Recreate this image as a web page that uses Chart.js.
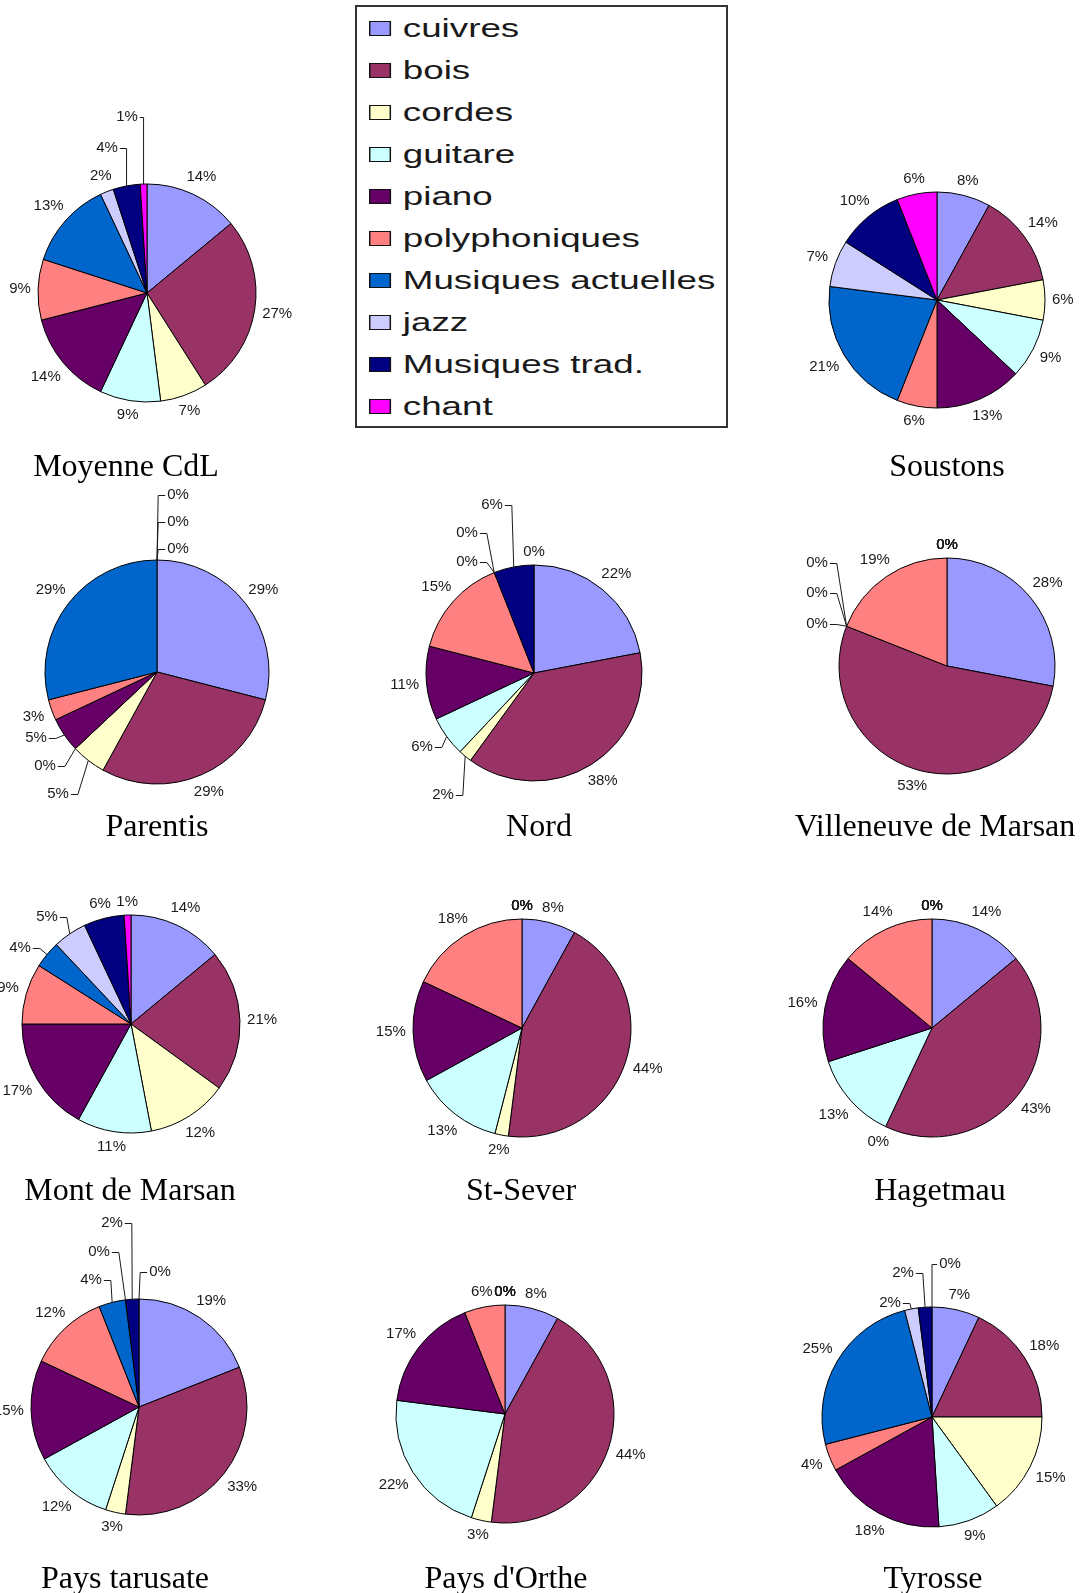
<!DOCTYPE html>
<html>
<head>
<meta charset="utf-8">
<script src="https://cdn.jsdelivr.net/npm/chart.js@4.4.1/dist/chart.umd.min.js"></script>
<style>
  body { margin: 0; background: #fff; }
  #page { position: relative; width: 1080px; height: 1593px; overflow: hidden; background: #fff; }
  #page canvas { position: absolute; }
  .site-title {
    position: absolute; width: 400px; text-align: center;
    font: 32px "Liberation Serif", "Times New Roman", serif; line-height: 36px; color: #000;
  }
  .legend-box {
    position: absolute; left: 355px; top: 5px; width: 369px; height: 419px;
    border: 2px solid #333; background: #fff;
  }
  .legend-list {
    position: absolute; left: 369px; top: 7px; transform: scaleX(1.47); transform-origin: left top;
    font: 25px "Liberation Sans", Arial, sans-serif; color: #1a1a1a; white-space: nowrap;
  }
  .legend-row { height: 42px; display: flex; align-items: center; }
  .legend-swatch { width: 13px; height: 13px; border: 1px solid #111; margin-right: 8px; }
</style>
</head>
<body>
<div id="page">
  <div class="legend-box"></div>
  <div class="legend-list" id="legend"></div>
</div>
<script>
// Répartition des élèves par famille d'instruments, par site (en %)
const CATEGORIES = ['cuivres', 'bois', 'cordes', 'guitare', 'piano', 'polyphoniques',
                    'Musiques actuelles', 'jazz', 'Musiques trad.', 'chant'];
const COLORS = ['#9999ff', '#993366', '#ffffcc', '#ccffff', '#660066', '#ff8080',
                '#0066cc', '#ccccff', '#000080', '#ff00ff'];

const moyenneCdL        = [14, 27, 7, 9, 14, 9, 13, 2, 4, 1];
const soustons          = [8, 14, 6, 9, 13, 6, 21, 7, 10, 6];
const parentis          = [29, 29, 5, 0, 5, 3, 29, 0, 0, 0];
const nord              = [22, 38, 2, 6, 11, 15, 0, 0, 6, 0];
const villeneuveMarsan  = [28, 53, 0, 0, 0, 19, 0, 0, 0, 0];
const montDeMarsan      = [14, 21, 12, 11, 17, 9, 4, 5, 6, 1];
const stSever           = [8, 44, 2, 13, 15, 18, 0, 0, 0, 0];
const hagetmau          = [14, 43, 0, 13, 16, 14, 0, 0, 0, 0];
const paysTarusate      = [19, 33, 3, 12, 15, 12, 4, 0, 2, 0];
const paysOrthe         = [8, 44, 3, 22, 17, 6, 0, 0, 0, 0];
const tyrosse           = [7, 18, 15, 9, 18, 4, 25, 2, 2, 0];

// layout: pie centre, radius, title position; callouts = label offsets for slices with leader lines
const SITES = [
  { title: 'Moyenne CdL', values: moyenneCdL, cx: 147, cy: 293, r: 109, tx: 126, ty: 465,
    callouts: { 8: [-40, -145], 9: [-20, -176] } },
  { title: 'Soustons', values: soustons, cx: 937, cy: 300, r: 108, tx: 947, ty: 465 },
  { title: 'Parentis', values: parentis, cx: 157, cy: 672, r: 112, tx: 157, ty: 825,
    callouts: { 2: [-99, 122], 3: [-112, 94], 4: [-121, 66], 7: [21, -123], 8: [21, -150], 9: [21, -177] } },
  { title: 'Nord', values: nord, cx: 534, cy: 673, r: 108, tx: 539, ty: 825,
    callouts: { 2: [-91, 122], 3: [-112, 74], 6: [-67, -111], 7: [-67, -140], 8: [-42, -168] } },
  { title: 'Villeneuve de Marsan', values: villeneuveMarsan, cx: 947, cy: 666, r: 108, tx: 935, ty: 825,
    callouts: { 2: [-130, -42], 3: [-130, -73], 4: [-130, -103] } },
  { title: 'Mont de Marsan', values: montDeMarsan, cx: 131, cy: 1024, r: 109, tx: 130, ty: 1189,
    callouts: { 6: [-111, -76], 7: [-84, -107] } },
  { title: 'St-Sever', values: stSever, cx: 522, cy: 1028, r: 109, tx: 521, ty: 1189 },
  { title: 'Hagetmau', values: hagetmau, cx: 932, cy: 1028, r: 109, tx: 940, ty: 1189 },
  { title: 'Pays tarusate', values: paysTarusate, cx: 139, cy: 1407, r: 108, tx: 125, ty: 1577,
    callouts: { 6: [-48, -127], 7: [-40, -155], 8: [-27, -184], 9: [21, -135] } },
  { title: "Pays d'Orthe", values: paysOrthe, cx: 505, cy: 1414, r: 109, tx: 506, ty: 1577 },
  { title: 'Tyrosse', values: tyrosse, cx: 932, cy: 1417, r: 110, tx: 933, ty: 1577,
    callouts: { 7: [-42, -114], 8: [-29, -144], 9: [18, -153] } },
];

const CANVAS = 400;

// Excel-style percentage labels, outside the pie, with leader lines where asked
const pctLabels = {
  id: 'pctLabels',
  afterDatasetsDraw(chart, args, opts) {
    const { ctx } = chart;
    const values = chart.data.datasets[0].data;
    const callouts = opts.callouts || {};
    ctx.save();
    ctx.font = '15px "Liberation Sans", Arial, sans-serif';
    ctx.fillStyle = '#1a1a1a';
    ctx.strokeStyle = '#1a1a1a';
    ctx.lineWidth = 1;
    ctx.textAlign = 'center';
    ctx.textBaseline = 'middle';
    chart.getDatasetMeta(0).data.forEach((arc, i) => {
      const { x, y, startAngle, endAngle, outerRadius } =
        arc.getProps(['x', 'y', 'startAngle', 'endAngle', 'outerRadius'], true);
      const mid = (startAngle + endAngle) / 2;
      const ux = Math.cos(mid), uy = Math.sin(mid);
      const text = values[i] + '%';
      const w = ctx.measureText(text).width;
      const c = callouts[i];
      if (c) {
        const lx = x + c[0], ly = y + c[1];
        ctx.fillText(text, lx, ly);
        const ax = x + outerRadius * ux, ay = y + outerRadius * uy;
        const side = ax >= lx ? 1 : -1;
        const sx = lx + side * (w / 2 + 2);
        const ex = side > 0 ? Math.max(sx, Math.min(sx + 7, ax)) : Math.min(sx, Math.max(sx - 7, ax));
        ctx.beginPath();
        ctx.moveTo(sx, ly + 0.5);
        ctx.lineTo(ex, ly + 0.5);
        ctx.lineTo(ax, ay);
        ctx.stroke();
      } else {
        const d = outerRadius + 7 + Math.abs(ux) * w / 2 + Math.abs(uy) * 6;
        ctx.fillText(text, x + d * ux, y + d * uy);
      }
    });
    ctx.restore();
  },
};

const page = document.getElementById('page');

SITES.forEach(site => {
  const cv = document.createElement('canvas');
  cv.width = CANVAS;
  cv.height = CANVAS;
  cv.style.left = (site.cx - CANVAS / 2) + 'px';
  cv.style.top = (site.cy - CANVAS / 2) + 'px';
  page.appendChild(cv);

  new Chart(cv, {
    type: 'pie',
    data: {
      labels: CATEGORIES,
      datasets: [{
        data: site.values,
        backgroundColor: COLORS,
        borderColor: '#000',
        borderWidth: 1,
        radius: site.r,
      }],
    },
    options: {
      responsive: false,
      animation: false,
      events: [],
      layout: { padding: 0 },
      plugins: {
        legend: { display: false },
        tooltip: { enabled: false },
        pctLabels: { callouts: site.callouts },
      },
    },
    plugins: [pctLabels],
  });

  const t = document.createElement('div');
  t.className = 'site-title';
  t.textContent = site.title;
  t.style.left = (site.tx - 200) + 'px';
  t.style.top = (site.ty - 18) + 'px';
  page.appendChild(t);
});

// legend
const legend = document.getElementById('legend');
legend.innerHTML = CATEGORIES.map((c, i) => `
  <div class="legend-row"><span class="legend-swatch" style="background:${COLORS[i]}"></span>${c}</div>`).join('');
</script>
</body>
</html>
